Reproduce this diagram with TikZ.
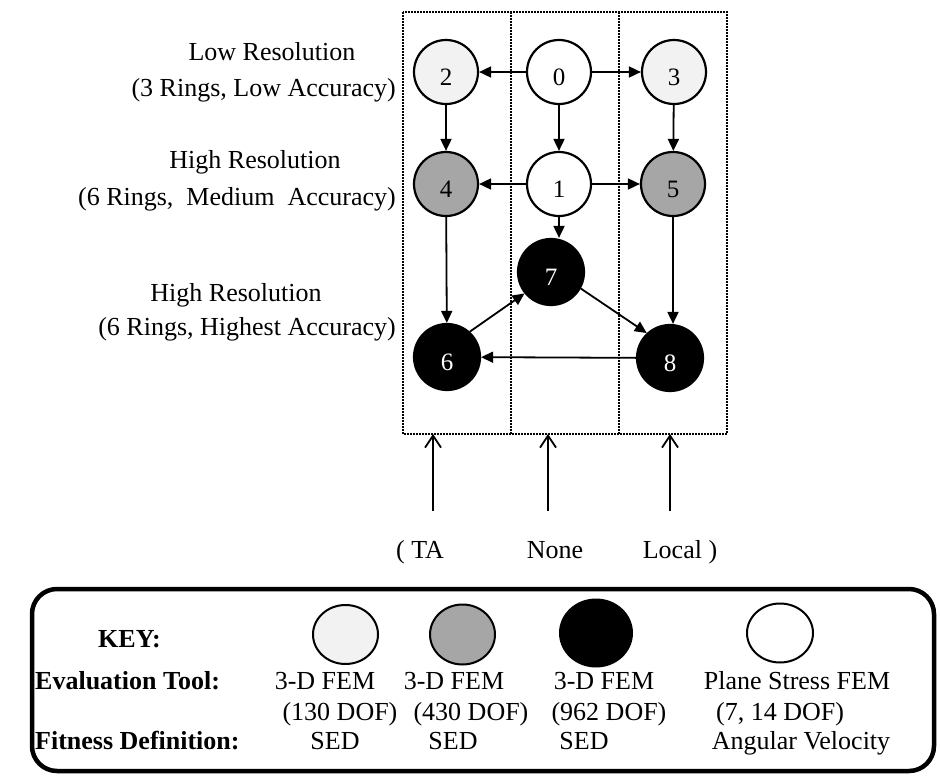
\documentclass[tikz,border=0pt]{standalone}
\usepackage{fontspec}
\setmainfont{Liberation Serif}
\usetikzlibrary{arrows.meta,shapes.geometric}

\definecolor{lightfill}{RGB}{242,242,242}
\definecolor{midfill}{RGB}{166,166,166}

\begin{document}
\begin{tikzpicture}[x=1pt,y=-1pt,
  txt/.style={font=\fontsize{26}{30}\selectfont, inner sep=0pt, anchor=base},
  keylabel/.style={font=\fontsize{26}{30}\selectfont\bfseries, inner sep=0pt, anchor=base west},
  state/.style={circle, draw=black, line width=2.2pt, minimum size=64pt, inner sep=0pt,
    font=\fontsize{25}{30}\selectfont, text height=27pt, text depth=0pt},
  lowres/.style={state, fill=lightfill},
  medres/.style={state, fill=midfill},
  hires/.style={state, fill=black, text=white, minimum size=66pt},
  plane/.style={state, fill=white},
  keyshape/.style={ellipse, draw=black, line width=2pt, inner sep=0pt},
  arr/.style={line width=1.8pt, -{Triangle[length=12pt,width=11pt]}},
  uparr/.style={line width=1.8pt, -{Straight Barb[length=12pt,width=16pt,line width=1.8pt]}},
  colline/.style={line width=1.8pt, dash pattern=on 1.6pt off 1.4pt},
]
\useasboundingbox (0,0) rectangle (940,782);

% column frames
\draw[colline] (403,12) rectangle (727,434);
\draw[colline] (511,12) -- (511,434);
\draw[colline] (619,12) -- (619,434);

% row captions
\node[txt] (cap1a) at (272,60) {Low Resolution};
\node[txt, anchor=base east] (cap1b) at (396,96) {(3 Rings, Low Accuracy)};
\node[txt] (cap2a) at (255,168) {High Resolution};
\node[txt, anchor=base east] (cap2b) at (396,205) {(6 Rings,\ \ Medium\ \ Accuracy)};
\node[txt] (cap3a) at (236,301) {High Resolution};
\node[txt, anchor=base east] (cap3b) at (396,335) {(6 Rings, Highest Accuracy)};

% states
\node[plane]  (n0) at (559,72) {0};
\node[lowres] (n2) at (446,72) {2};
\node[lowres] (n3) at (674,72) {3};
\node[plane]  (n1) at (559,184) {1};
\node[medres] (n4) at (446,184) {4};
\node[medres] (n5) at (673,184) {5};
\node[hires]  (n7) at (551,272) {7};
\node[hires]  (n6) at (447,357) {6};
\node[hires]  (n8) at (670,358) {8};

% transitions
\draw[arr] (n0) -- (n2);
\draw[arr] (n0) -- (n3);
\draw[arr] (n0) -- (n1);
\draw[arr] (n2) -- (n4);
\draw[arr] (n3) -- (n5);
\draw[arr] (n1) -- (n4);
\draw[arr] (n1) -- (n5);
\draw[arr] (n1.south) -- (n1.south |- n7.north);
\draw[arr] (n4) -- (n6);
\draw[arr] (n5) -- (n5 |- n8.north);
\draw[arr] (n6.48) -- (n7.219);
\draw[arr] (n7.-29) -- (n8.133);
\draw[arr] (n8) -- (n6);

% search scope arrows
\coordinate (taBase) at (433,511);
\coordinate (taTip) at (433,434);
\coordinate (noBase) at (548,511);
\coordinate (noTip) at (548,434);
\coordinate (loBase) at (670,511);
\coordinate (loTip) at (670,434);
\draw[uparr] (taBase) -- (taTip);
\draw[uparr] (noBase) -- (noTip);
\draw[uparr] (loBase) -- (loTip);
\node[txt] (ta) at (420,558) {( TA};
\node[txt] (none) at (555,558) {None};
\node[txt] (local) at (680,558) {Local )};

% key
\draw[line width=4.5pt, rounded corners=25pt] (32,589) rectangle (934,771);
\node[keyshape, fill=lightfill, minimum width=65pt, minimum height=59pt] (k1) at (345.5,634.5) {};
\node[keyshape, fill=midfill, minimum width=65pt, minimum height=60pt] (k2) at (462.5,634.5) {};
\node[keyshape, fill=black, minimum width=72pt, minimum height=67pt] (k3) at (596,633) {};
\node[keyshape, fill=white, minimum width=66pt, minimum height=59pt] (k4) at (780,633) {};

\node[keylabel] (keyhd) at (98,647) {KEY:};
\node[keylabel] (evalhd) at (35,689) {Evaluation Tool:};
\node[keylabel] (fithd) at (35,749) {Fitness Definition:};

\node[txt] (e1) at (325,689) {3-D FEM};
\node[txt] (d1) at (340,720) {(130 DOF)};
\node[txt] (f1) at (335,749) {SED};
\node[txt] (e2) at (454,689) {3-D FEM};
\node[txt] (d2) at (471,720) {(430 DOF)};
\node[txt] (f2) at (453,749) {SED};
\node[txt] (e3) at (604,689) {3-D FEM};
\node[txt] (d3) at (609,720) {(962 DOF)};
\node[txt] (f3) at (584,749) {SED};
\node[txt] (e4) at (797,689) {Plane Stress FEM};
\node[txt] (d4) at (780,720) {(7, 14 DOF)};
\node[txt] (f4) at (801,749) {Angular Velocity};
\end{tikzpicture}
\end{document}
